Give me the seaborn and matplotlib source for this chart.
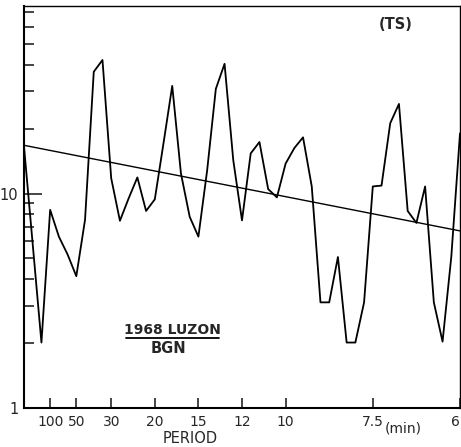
import numpy as np
import pandas as pd
import matplotlib
matplotlib.use("Agg")
import matplotlib.pyplot as plt
import seaborn as sns
from matplotlib.ticker import LogLocator, FixedLocator, FixedFormatter, NullFormatter

# ---- data ----
harmonic = np.arange(51)          # spectral estimates every 1/300 cycles per minute
freq_unit = 300.0
power = [16.6, 5.8, 2.02, 8.4, 6.3, 5.2, 4.12, 7.55, 37, 42,
         11.8, 7.47, 9.5, 11.9, 8.3, 9.4, 17.2, 31.8, 12.4, 7.8,
         6.3, 12.8, 30.8, 40.3, 14.3, 7.5, 15.4, 17.4, 10.5, 9.6,
         13.8, 16.3, 18.3, 10.8, 3.11, 3.11, 5.06, 2.02, 2.02, 3.11,
         10.8, 10.9, 21.3, 26.2, 8.3, 7.3, 10.8, 3.11, 2.04, 5.06,
         19.1]
trend_freq = [0.0, 1 / 6]
trend_power = [16.8, 6.7]
period_ticks = [100, 50, 30, 20, 15, 12, 10, 7.5, 6]
period_labels = ["100", "50", "30", "20", "15", "12", "10", "7.5", "6"]
y_major = [1, 10]
y_labels = ["1", "10"]

df = pd.DataFrame({"freq": harmonic / freq_unit, "power": power})
trend = pd.DataFrame({"freq": trend_freq, "power": trend_power})

sns.set_style("ticks")
plt.rcParams["font.family"] = ["DejaVu Sans"]

fig = plt.figure(figsize=(4.61, 4.47), dpi=100)
ax = fig.add_axes([24 / 461, 1 - 408 / 447, 436 / 461, 402 / 447])

sns.lineplot(data=df, x="freq", y="power", ax=ax, color="black", linewidth=1.3)
sns.lineplot(data=trend, x="freq", y="power", ax=ax, color="black", linewidth=1.0)

ax.set_yscale("log")
ax.set_xlim(0, 1 / 6)
ax.set_ylim(1, 75)

ax.yaxis.set_major_locator(FixedLocator(y_major))
ax.yaxis.set_major_formatter(FixedFormatter(y_labels))
ax.yaxis.set_minor_locator(LogLocator(base=10, subs=np.arange(2, 10)))
ax.yaxis.set_minor_formatter(NullFormatter())

ax.set_xticks([1 / p for p in period_ticks])
ax.set_xticklabels(period_labels)
ax.get_xticklabels()[-1].set_horizontalalignment("right")

ax.tick_params(axis="y", which="major", direction="in", length=13, width=1.2,
               labelsize=10.5, pad=4)
ax.tick_params(axis="y", which="minor", direction="in", length=7, width=1.2)
ax.tick_params(axis="x", which="major", direction="in", length=7, width=1.2,
               labelsize=10, pad=5)

for s in ["left", "bottom", "top", "right"]:
    ax.spines[s].set_visible(True)
    ax.spines[s].set_color("black")
ax.spines["left"].set_linewidth(1.5)
ax.spines["bottom"].set_linewidth(1.5)
ax.spines["top"].set_linewidth(1.0)
ax.spines["right"].set_linewidth(1.0)

ax.set_xlabel("")
ax.set_ylabel("")

ax.text(0.852, 0.953, "(TS)", transform=ax.transAxes, ha="center", va="center",
        fontsize=10.5, fontweight="bold")
ax.text(0.341, 0.194, "1968 LUZON", transform=ax.transAxes, ha="center",
        va="center", fontsize=10, fontweight="bold")
ax.plot([0.234, 0.447], [0.174, 0.174], transform=ax.transAxes, color="black",
        linewidth=1.3)
ax.text(0.331, 0.149, "BGN", transform=ax.transAxes, ha="center", va="center",
        fontsize=10.5, fontweight="bold")
ax.text(0.381, -0.075, "PERIOD", transform=ax.transAxes, ha="center",
        va="center", fontsize=10.5)
ax.text(0.87, -0.05, "(min)", transform=ax.transAxes, ha="center",
        va="center", fontsize=10)

fig.savefig("out.png", dpi=100, facecolor="white")
